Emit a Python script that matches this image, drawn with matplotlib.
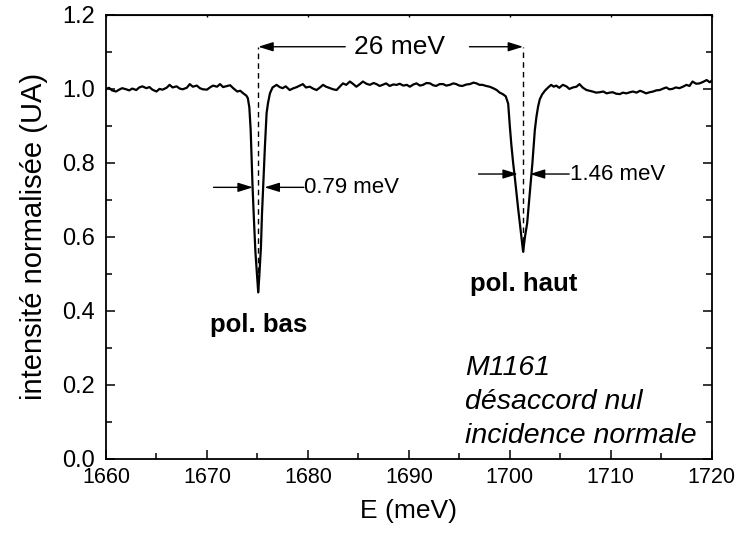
import matplotlib
matplotlib.use("Agg")
import matplotlib.pyplot as plt
from matplotlib.ticker import MultipleLocator, FormatStrFormatter

# spectrum: baseline, low-energy dip, middle, high-energy dip, tail
E_left = [1660.0, 1660.3, 1660.6, 1661.0, 1661.3, 1661.6, 1662.0, 1662.3, 1662.6, 1663.0,
          1663.3, 1663.6, 1664.0, 1664.3, 1664.6, 1665.0, 1665.3, 1665.6, 1666.0, 1666.3,
          1666.6, 1667.0, 1667.3, 1667.6, 1668.0, 1668.3, 1668.6, 1669.0, 1669.3, 1669.6,
          1670.0, 1670.3, 1670.6, 1671.0, 1671.3, 1671.6, 1672.0, 1672.3, 1672.6, 1673.0,
          1673.3, 1673.6, 1673.9]
I_left = [1.000, 1.003, 0.996, 0.993, 0.998, 1.002, 0.999, 0.996, 1.001, 0.997,
          1.004, 1.007, 1.002, 1.005, 0.998, 0.993, 1.000, 0.998, 1.003, 1.011,
          1.004, 1.007, 1.001, 0.999, 1.003, 1.013, 1.006, 1.009, 1.002, 0.999,
          0.998, 1.004, 1.009, 1.006, 1.013, 1.005, 1.008, 1.010, 1.002, 0.993,
          0.995, 0.988, 0.982]

E_dip_low = [1674.05, 1674.2, 1674.33, 1674.52, 1674.65, 1674.8, 1674.95, 1675.08, 1675.2,
             1675.35, 1675.45, 1675.57, 1675.66, 1675.74, 1675.83, 1675.91, 1676.05, 1676.24]
I_dip_low = [0.975, 0.950, 0.890, 0.735, 0.650, 0.560, 0.500, 0.450, 0.500,
             0.573, 0.660, 0.735, 0.790, 0.843, 0.890, 0.935, 0.962, 0.988]

E_mid = [1676.5, 1676.9, 1677.2, 1677.5, 1677.8, 1678.2, 1678.5, 1678.9, 1679.2, 1679.5,
         1679.8, 1680.2, 1680.5, 1680.86, 1681.2, 1681.5, 1681.8, 1682.2, 1682.5, 1682.84,
         1683.15, 1683.47, 1683.8, 1684.16, 1684.5, 1684.8, 1685.1, 1685.45, 1685.8, 1686.14,
         1686.5, 1686.8, 1687.1, 1687.4, 1687.75, 1688.1, 1688.45, 1688.8, 1689.1, 1689.45,
         1689.8, 1690.1, 1690.45, 1690.76, 1691.1, 1691.4, 1691.75, 1692.1, 1692.4, 1692.7,
         1693.05, 1693.4, 1693.7, 1694.06, 1694.4, 1694.7, 1695.0, 1695.3, 1695.7, 1696.04,
         1696.4, 1696.7, 1697.0, 1697.3, 1697.65, 1698.0, 1698.35, 1698.7, 1699.0, 1699.3,
         1699.6]
I_mid = [1.004, 1.011, 1.005, 1.002, 1.007, 0.997, 1.001, 1.005, 1.009, 1.013,
         1.004, 1.006, 1.001, 0.997, 1.004, 1.011, 1.006, 1.002, 0.999, 0.997,
         1.006, 1.015, 1.011, 1.020, 1.013, 1.006, 1.012, 1.020, 1.014, 1.011,
         1.016, 1.013, 1.008, 1.011, 1.015, 1.008, 1.012, 1.011, 1.014, 1.009,
         1.011, 1.006, 1.012, 1.015, 1.009, 1.011, 1.016, 1.015, 1.010, 1.008,
         1.013, 1.013, 1.009, 1.011, 1.015, 1.013, 1.009, 1.008, 1.012, 1.013,
         1.017, 1.015, 1.011, 1.011, 1.008, 1.006, 1.002, 0.997, 0.990, 0.986,
         0.980]

E_dip_high = [1699.84, 1700.0, 1700.15, 1700.33, 1700.5, 1700.66, 1700.82, 1700.99, 1701.15,
              1701.32, 1701.5, 1701.72, 1701.85, 1701.98, 1702.1, 1702.24, 1702.36, 1702.48,
              1702.64, 1702.8, 1702.97, 1703.2, 1703.47]
I_dip_high = [0.960, 0.900, 0.850, 0.800, 0.760, 0.718, 0.678, 0.638, 0.600,
              0.560, 0.600, 0.637, 0.678, 0.718, 0.760, 0.800, 0.845, 0.889,
              0.925, 0.952, 0.972, 0.985, 0.995]

E_right = [1703.8, 1704.1, 1704.35, 1704.6, 1704.9, 1705.25, 1705.6, 1705.9, 1706.25, 1706.6,
           1706.9, 1707.25, 1707.6, 1707.9, 1708.2, 1708.55, 1708.9, 1709.25, 1709.6, 1709.9,
           1710.2, 1710.55, 1710.9, 1711.2, 1711.55, 1711.9, 1712.2, 1712.55, 1712.9, 1713.2,
           1713.5, 1713.85, 1714.2, 1714.5, 1714.85, 1715.2, 1715.5, 1715.8, 1716.1, 1716.45,
           1716.8, 1717.15, 1717.5, 1717.8, 1718.1, 1718.45, 1718.8, 1719.15, 1719.5, 1719.8,
           1720.0]
I_right = [1.004, 1.011, 1.006, 1.009, 1.003, 1.011, 1.007, 1.000, 1.004, 1.006,
           1.013, 1.003, 0.997, 0.995, 0.993, 0.990, 0.991, 0.993, 0.988, 0.990,
           0.991, 0.987, 0.986, 0.990, 0.988, 0.991, 0.993, 0.990, 0.995, 0.992,
           0.988, 0.991, 0.993, 0.996, 0.997, 1.001, 1.004, 0.999, 1.000, 1.004,
           1.002, 1.006, 1.011, 1.008, 1.020, 1.014, 1.015, 1.019, 1.024, 1.018,
           1.022]

# dip positions / depths and the width markers (left edge, right edge, level)
peak_E = [1675.08, 1701.32]
peak_I = [0.450, 0.560]
fwhm_edges = [(1674.55, 1675.70, 0.734), (1700.80, 1701.98, 0.770)]
fwhm_labels = ["0.79 meV", "1.46 meV"]
pol_labels = ["pol. bas", "pol. haut"]
split_label = "26 meV"
sample_lines = ["M1161", "désaccord nul", "incidence normale"]

energy = E_left + E_dip_low + E_mid + E_dip_high + E_right
intensity = I_left + I_dip_low + I_mid + I_dip_high + I_right

plt.rcParams["font.family"] = ["Liberation Sans", "DejaVu Sans"]

fig = plt.figure(figsize=(7.36, 5.33), dpi=100)
ax = fig.add_axes([0.144, 0.139, 0.823, 0.833])

ax.plot(energy, intensity, color="black", lw=1.6)

ax.set_xlim(1660, 1720)
ax.set_ylim(0.0, 1.2)
ax.xaxis.set_major_locator(MultipleLocator(10))
ax.xaxis.set_minor_locator(MultipleLocator(5))
ax.yaxis.set_major_locator(MultipleLocator(0.2))
ax.yaxis.set_minor_locator(MultipleLocator(0.1))
ax.yaxis.set_major_formatter(FormatStrFormatter("%.1f"))
ax.tick_params(which="both", direction="in", left=True, right=True, bottom=True, top=True,
               width=1.1)
ax.tick_params(which="major", length=6.5)
ax.tick_params(which="minor", length=4.5)
ax.tick_params(axis="x", which="both", top=False)
ax.tick_params(axis="y", labelsize=17, pad=8)
ax.tick_params(axis="x", labelsize=15.5, pad=6)
# tiny notches along the top frame
ax.secondary_xaxis("top").tick_params(which="both", direction="in", length=1.5,
                                       labeltop=False, width=1.0)
for sp in ax.spines.values():
    sp.set_linewidth(1.3)

ax.set_xlabel("E (meV)", fontsize=19, labelpad=8)
ax.set_ylabel("intensité normalisée (UA)", fontsize=21, labelpad=10)

arrow = dict(arrowstyle="-|>,head_length=0.9,head_width=0.28", color="black", lw=1.0,
             shrinkA=0, shrinkB=0)

# 26 meV splitting
y_split = 1.114
for E0, I0 in zip(peak_E, peak_I):
    ax.plot([E0, E0], [I0, y_split], color="black", lw=1.0, ls=(0, (4, 3)))
mid = (peak_E[0] + peak_E[1]) / 2
ax.text(mid + 0.9, y_split, split_label, fontsize=19, ha="center", va="center")
ax.annotate("", xy=(peak_E[0], y_split), xytext=(mid - 4.5, y_split), arrowprops=arrow)
ax.annotate("", xy=(peak_E[1], y_split), xytext=(mid + 7.8, y_split), arrowprops=arrow)

# line widths
for (left, right, lvl), txt in zip(fwhm_edges, fwhm_labels):
    ax.annotate("", xy=(left, lvl), xytext=(left - 3.9, lvl), arrowprops=arrow)
    ax.annotate("", xy=(right, lvl), xytext=(right + 3.9, lvl), arrowprops=arrow)
    ax.text(right + 3.95, lvl, txt, fontsize=16, ha="left", va="center")

ax.text(peak_E[0], 0.362, pol_labels[0], fontsize=18.5, fontweight="bold", ha="center", va="center")
ax.text(peak_E[1] + 0.1, 0.473, pol_labels[1], fontsize=18.5, fontweight="bold", ha="center", va="center")

for k, line in enumerate(sample_lines):
    ax.text(1695.6, 0.245 - k * 0.092, line, fontsize=20.5, style="italic", ha="left", va="center")

fig.savefig("out.png", dpi=100)
